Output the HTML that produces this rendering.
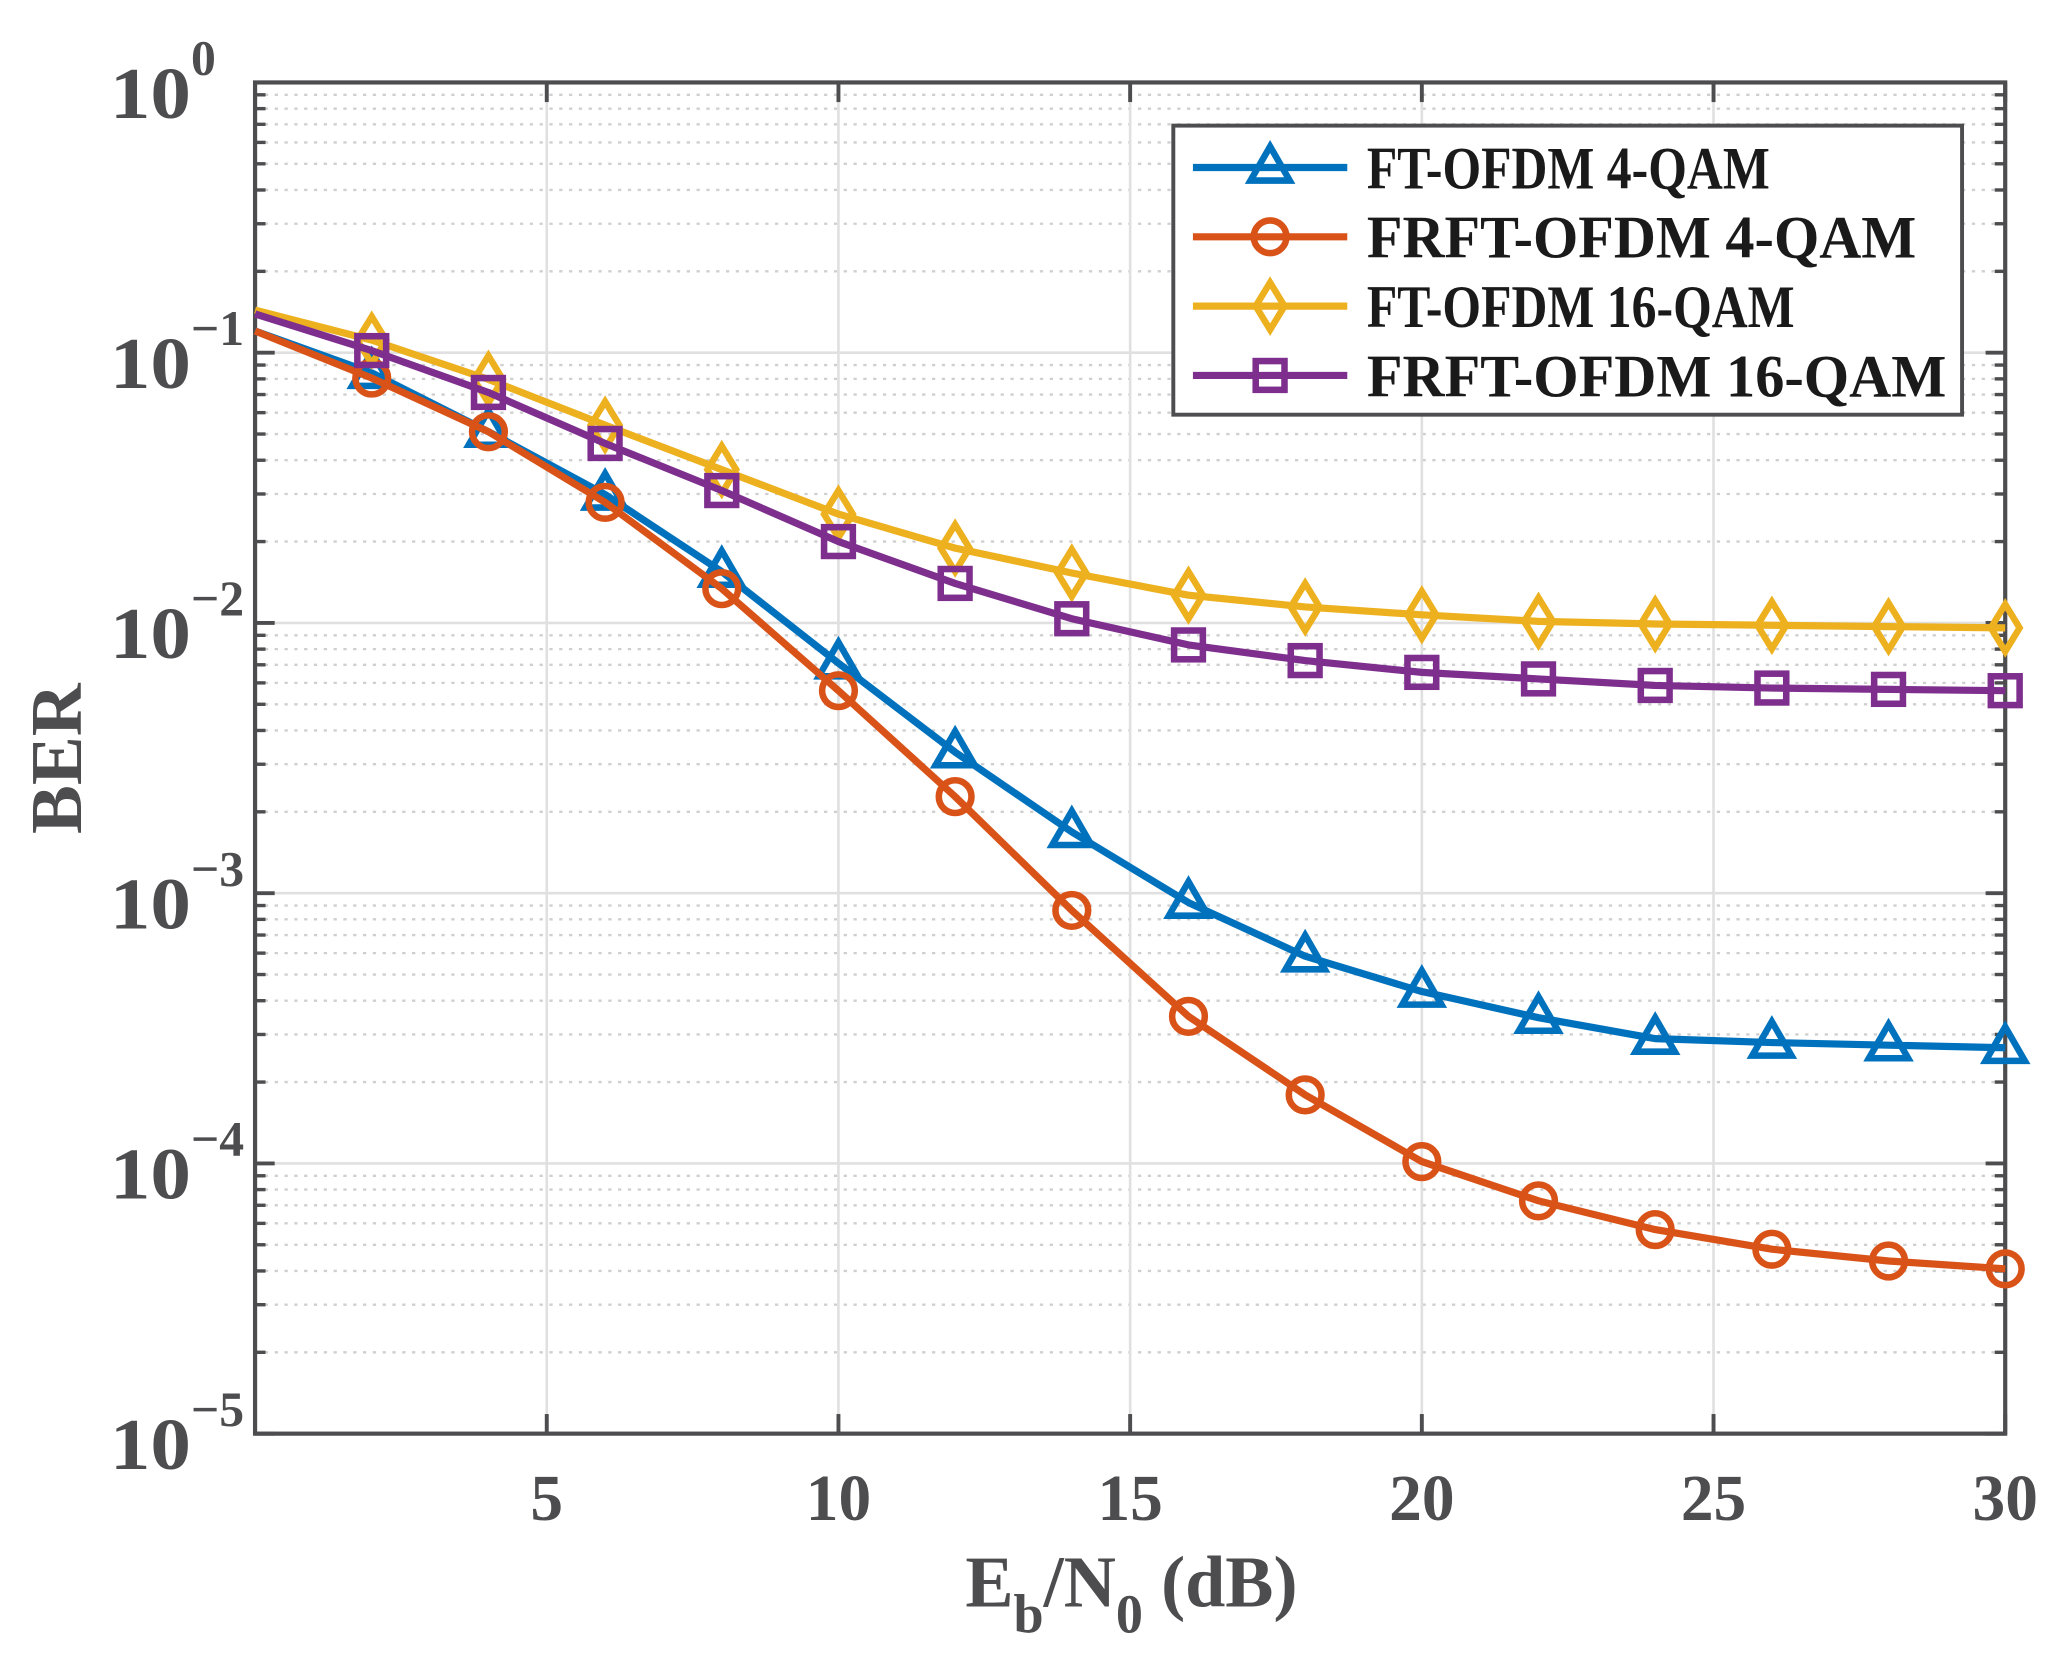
<!DOCTYPE html>
<html><head><meta charset="utf-8"><style>html,body{margin:0;padding:0;background:#fff;}svg{display:block}</style></head>
<body>
<svg id="s" xmlns="http://www.w3.org/2000/svg" width="2051" height="1666" viewBox="0 0 1568 1273.6" font-family="'Liberation Serif', serif" font-weight="bold"></svg>
<script>
const s=document.getElementById('s');let h='';
const L=195,R=1533,T=63,B=1096,D=(B-T)/5;
const X=v=>L+(R-L)*v/30;
for(let d=0;d<5;d++){for(let k=2;k<=9;k++){const y=T+D*(d+1)-D*Math.log10(k);
h+=`<line x1="${L}" x2="${R}" y1="${y}" y2="${y}" stroke="#cfcfcf" stroke-width="1.8" stroke-dasharray="2.5,5"/>`;
h+=`<line x1="${L}" x2="${L+8}" y1="${y}" y2="${y}" stroke="#4d4d4f" stroke-width="2.6"/><line x1="${R}" x2="${R-8}" y1="${y}" y2="${y}" stroke="#4d4d4f" stroke-width="2.6"/>`;}}
for(let d=1;d<5;d++){const y=T+D*d;h+=`<line x1="${L}" x2="${R}" y1="${y}" y2="${y}" stroke="#e0e0e0" stroke-width="2"/>`;}
for(let v=5;v<30;v+=5){h+=`<line x1="${X(v)}" x2="${X(v)}" y1="${T}" y2="${B}" stroke="#e0e0e0" stroke-width="2"/>`;}
for(let d=0;d<=5;d++){const y=T+D*d;h+=`<line x1="${L}" x2="${L+15}" y1="${y}" y2="${y}" stroke="#4d4d4f" stroke-width="3"/><line x1="${R}" x2="${R-15}" y1="${y}" y2="${y}" stroke="#4d4d4f" stroke-width="3"/>`;
h+=`<text x="146" y="${y+27}" font-size="56" fill="#4d4d4f" text-anchor="end" textLength="62" lengthAdjust="spacingAndGlyphs">10</text><text x="146" y="${y-6}" font-size="38" fill="#4d4d4f">${d?'\u2212'+d:'0'}</text>`;}
for(let v=5;v<=30;v+=5){const x=X(v);h+=`<line x1="${x}" x2="${x}" y1="${B}" y2="${B-15}" stroke="#4d4d4f" stroke-width="3"/><line x1="${x}" x2="${x}" y1="${T}" y2="${T+15}" stroke="#4d4d4f" stroke-width="3"/>`;
h+=`<text x="${x}" y="1162" font-size="50" fill="#4d4d4f" text-anchor="middle">${v}</text>`;}
h+=`<rect x="${L}" y="${T}" width="${R-L}" height="${B-T}" fill="none" stroke="#4d4d4f" stroke-width="3.2"/>`;
h+=`<text x="738" y="1228" font-size="56" fill="#4d4d4f" textLength="254" lengthAdjust="spacingAndGlyphs">E<tspan font-size="42" dy="20">b</tspan><tspan dy="-20">/N</tspan><tspan font-size="42" dy="20">0</tspan><tspan dy="-20"> (dB)</tspan></text>`;
h+=`<text transform="translate(62,580) rotate(-90)" font-size="56" fill="#4d4d4f" text-anchor="middle">BER</text>`;
const xs=[0,2,4,6,8,10,12,14,16,18,20,22,24,26,28,30];
const S=[
 {c:'#0072BD',m:'t',y:[253,285,330,378,437,507,575,636,690,731,758,778,794,797,799,801]},
 {c:'#D95319',m:'o',y:[253,289,330,384,450,528,609,696,777,837,888,918,940,955,964,970]},
 {c:'#EDB120',m:'d',y:[237,260,290,325,359,393,419,438,455,464,470,475,477,478,479,480]},
 {c:'#7E2F8E',m:'s',y:[240,268,300,339,375,414,446,473,493,505,514,519,524,526,527,528]}];
function mk(m,x,y,c){const st=`fill="none" stroke="${c}" stroke-width="5"`;
 if(m=='t')return `<polygon points="${x},${y-16} ${x+15},${y+10} ${x-15},${y+10}" ${st}/>`;
 if(m=='o')return `<circle cx="${x}" cy="${y}" r="12.5" ${st}/>`;
 if(m=='d')return `<polygon points="${x},${y-18} ${x+11},${y} ${x},${y+18} ${x-11},${y}" ${st}/>`;
 return `<rect x="${x-11}" y="${y-11}" width="22" height="22" ${st}/>`;}
S.forEach(o=>{h+=`<polyline points="${xs.map((v,i)=>X(v)+','+o.y[i]).join(' ')}" fill="none" stroke="${o.c}" stroke-width="5.5" stroke-linejoin="round"/>`;
 xs.forEach((v,i)=>{if(i>0)h+=mk(o.m,X(v),o.y[i],o.c);});});
h+=`<rect x="897" y="96" width="603" height="221" fill="#fff" stroke="#4d4d4f" stroke-width="3"/>`;
const names=['FT-OFDM 4-QAM','FRFT-OFDM 4-QAM','FT-OFDM 16-QAM','FRFT-OFDM 16-QAM'];
const tl=[308,420,327,443];
S.forEach((o,i)=>{const y=128+53*i;h+=`<line x1="912" x2="1030" y1="${y}" y2="${y}" stroke="${o.c}" stroke-width="5.5"/>`+mk(o.m,971,y,o.c);
 h+=`<text x="1045" y="${y+16}" font-size="46" fill="#1a1a1a" textLength="${tl[i]}" lengthAdjust="spacingAndGlyphs">${names[i]}</text>`;});
s.innerHTML=h;
</script>
</body></html>
